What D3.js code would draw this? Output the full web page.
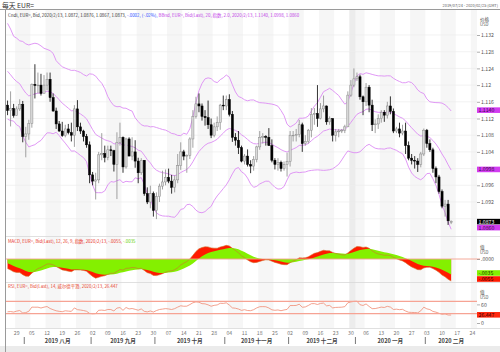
<!DOCTYPE html>
<html>
<head>
<meta charset="utf-8">
<script src="https://cdn.jsdelivr.net/npm/d3@7"></script>
<style>
body { margin: 0; background: #fff; }
text { font-family: "Noto Sans CJK SC", "Noto Sans", sans-serif; }
</style>
</head>
<body>
<svg id="chart" width="500" height="352"></svg>
<script>
// Closes before the visible range, only used to warm up the indicators
const warmupCloses = [
	1.1307, 1.1284, 1.1295, 1.1234, 1.1245, 1.1258, 1.1225, 1.1153, 1.1131, 1.1150, 1.1183, 1.1215,
	1.1196, 1.1172, 1.1200, 1.1198, 1.1191, 1.1190, 1.1215, 1.1235, 1.1225, 1.1205, 1.1173, 1.1173,
	1.1157, 1.1164, 1.1161, 1.1153, 1.1180, 1.1205, 1.1192, 1.1162, 1.1130, 1.1132, 1.1169,
	1.1240, 1.1253, 1.1222, 1.1276, 1.1333, 1.1312, 1.1327, 1.1290, 1.1275, 1.1208, 1.1220, 1.1192,
	1.1228, 1.1292, 1.1370, 1.1400, 1.1365, 1.1368, 1.1370, 1.1372,
	1.1285, 1.1286, 1.1283, 1.1285, 1.1226, 1.1213, 1.1208, 1.1252, 1.1254, 1.1271, 1.1260, 1.1210,
	1.1225, 1.1275, 1.1220, 1.1208, 1.1152
]

// Daily bars 2019/07/24 .. 2020/02/13 (weekdays)
const opens = [
	1.1152, 1.1139, 1.1144, 1.1127, 1.1143, 1.1154, 1.1077, 1.1083, 1.1108, 1.1202, 1.1199, 1.1200, 1.1180,
	1.1200, 1.1214, 1.1170, 1.1138, 1.1107, 1.1090, 1.1079, 1.1095, 1.1086, 1.1080, 1.1143, 1.1100, 1.1090,
	1.1077, 1.1057, 1.0985, 1.0970, 1.0973, 1.1033, 1.1036, 1.1027, 1.1045, 1.1043, 1.1010, 1.1063, 1.1075,
	1.1004, 1.1071, 1.1030, 1.1040, 1.1018, 1.0990, 1.1020, 1.0940, 1.0920, 1.0940, 1.0900, 1.0933, 1.0958,
	1.0968, 1.0979, 1.0970, 1.0955, 1.0973, 1.1007, 1.1040, 1.1030, 1.1032, 1.1071, 1.1125, 1.1155, 1.1150,
	1.1125, 1.1122, 1.1105, 1.1080, 1.1100, 1.1110, 1.1152, 1.1150, 1.1165, 1.1130, 1.1075, 1.1068, 1.1050,
	1.1018, 1.1030, 1.1010, 1.1006, 1.1022, 1.1052, 1.1075, 1.1077, 1.1075, 1.1055, 1.1020, 1.1010, 1.1015,
	1.1000, 1.1010, 1.1017, 1.1080, 1.1080, 1.1082, 1.1105, 1.1060, 1.1065, 1.1092, 1.1130, 1.1132, 1.1120,
	1.1143, 1.1150, 1.1112, 1.1120, 1.1080, 1.1088, 1.1090, 1.1092, 1.1100, 1.1176, 1.1200, 1.1215, 1.1220,
	1.1172, 1.1160, 1.1195, 1.1152, 1.1105, 1.1107, 1.1120, 1.1135, 1.1128, 1.1150, 1.1137, 1.1090, 1.1095,
	1.1085, 1.1090, 1.1055, 1.1025, 1.1020, 1.1018, 1.1010, 1.1035, 1.1092, 1.1060, 1.1045, 1.1000, 1.0980,
	1.0945, 1.0910, 1.0915, 1.0872
]
const highs = [
	1.1163, 1.1185, 1.1155, 1.1149, 1.1166, 1.1162, 1.1100, 1.1117, 1.1204, 1.1250, 1.1230, 1.1227, 1.1224,
	1.1230, 1.1230, 1.1180, 1.1146, 1.1114, 1.1112, 1.1105, 1.1107, 1.1110, 1.1152, 1.1164, 1.1110, 1.1093,
	1.1083, 1.1065, 1.0992, 1.0990, 1.1040, 1.1085, 1.1055, 1.1055, 1.1055, 1.1045, 1.1087, 1.1110, 1.1077,
	1.1074, 1.1075, 1.1075, 1.1068, 1.1026, 1.1025, 1.1020, 1.0955, 1.0959, 1.0945, 1.0943, 1.0964, 1.0995,
	1.0998, 1.1000, 1.0985, 1.0984, 1.1035, 1.1063, 1.1045, 1.1034, 1.1075, 1.1140, 1.1172, 1.1180, 1.1156,
	1.1140, 1.1163, 1.1120, 1.1110, 1.1125, 1.1155, 1.1175, 1.1175, 1.1178, 1.1138, 1.1085, 1.1090, 1.1055,
	1.1035, 1.1046, 1.1020, 1.1030, 1.1055, 1.1090, 1.1085, 1.1080, 1.1097, 1.1070, 1.1025, 1.1025, 1.1019,
	1.1017, 1.1038, 1.1090, 1.1090, 1.1095, 1.1117, 1.1110, 1.1080, 1.1095, 1.1145, 1.1145, 1.1200, 1.1157,
	1.1175, 1.1151, 1.1125, 1.1120, 1.1095, 1.1095, 1.1095, 1.1105, 1.1185, 1.1212, 1.1240, 1.1230, 1.1225,
	1.1175, 1.1205, 1.1200, 1.1165, 1.1118, 1.1130, 1.1140, 1.1140, 1.1160, 1.1173, 1.1144, 1.1100, 1.1110,
	1.1105, 1.1110, 1.1065, 1.1035, 1.1030, 1.1025, 1.1040, 1.1096, 1.1095, 1.1070, 1.1050, 1.1005, 1.0985,
	1.0950, 1.0925, 1.0925, 1.0876
]
const lows = [
	1.1128, 1.1101, 1.1122, 1.1126, 1.1138, 1.1063, 1.1027, 1.1069, 1.1098, 1.1168, 1.1180, 1.1175, 1.1180,
	1.1188, 1.1160, 1.1136, 1.1095, 1.1088, 1.1076, 1.1075, 1.1082, 1.1065, 1.1052, 1.1090, 1.1083, 1.1065,
	1.1050, 1.0965, 1.0960, 1.0926, 1.0965, 1.1020, 1.1015, 1.1020, 1.1030, 1.0993, 1.0927, 1.1055, 1.0990,
	1.1000, 1.1030, 1.1020, 1.1002, 1.0965, 1.0985, 1.0935, 1.0915, 1.0905, 1.0885, 1.0879, 1.0920, 1.0950,
	1.0960, 1.0965, 1.0940, 1.0943, 1.0965, 1.0997, 1.1020, 1.0990, 1.1023, 1.1050, 1.1120, 1.1135, 1.1115,
	1.1103, 1.1095, 1.1073, 1.1075, 1.1090, 1.1093, 1.1140, 1.1140, 1.1125, 1.1064, 1.1055, 1.1035, 1.1015,
	1.1010, 1.1005, 1.0989, 1.0995, 1.1015, 1.1045, 1.1060, 1.1055, 1.1055, 1.1015, 1.0998, 1.0995, 1.0993,
	1.0995, 1.0981, 1.1005, 1.1065, 1.1065, 1.1075, 1.1040, 1.1055, 1.1060, 1.1075, 1.1105, 1.1100, 1.1118,
	1.1135, 1.1105, 1.1105, 1.1065, 1.1065, 1.1075, 1.1085, 1.1085, 1.1100, 1.1172, 1.1195, 1.1210, 1.1165,
	1.1128, 1.1150, 1.1135, 1.1090, 1.1085, 1.1095, 1.1110, 1.1112, 1.1120, 1.1130, 1.1085, 1.1085, 1.1075,
	1.1080, 1.1035, 1.1020, 1.1010, 1.1000, 1.0992, 1.1003, 1.1030, 1.1050, 1.1040, 1.0990, 1.0965, 1.0940,
	1.0905, 1.0885, 1.0865, 1.0867
]
const closes = [
	1.1139, 1.1144, 1.1127, 1.1143, 1.1154, 1.1077, 1.1083, 1.1108, 1.1202, 1.1199, 1.1200, 1.1180, 1.1200,
	1.1214, 1.1170, 1.1138, 1.1107, 1.1090, 1.1079, 1.1095, 1.1086, 1.1080, 1.1143, 1.1100, 1.1090, 1.1077,
	1.1057, 1.0985, 1.0970, 1.0973, 1.1033, 1.1036, 1.1027, 1.1045, 1.1043, 1.1010, 1.1063, 1.1075, 1.1004,
	1.1071, 1.1030, 1.1040, 1.1018, 1.0990, 1.1020, 1.0940, 1.0920, 1.0940, 1.0900, 1.0933, 1.0958, 1.0968,
	1.0979, 1.0970, 1.0955, 1.0973, 1.1007, 1.1040, 1.1030, 1.1032, 1.1071, 1.1125, 1.1155, 1.1150, 1.1125,
	1.1122, 1.1105, 1.1080, 1.1100, 1.1110, 1.1152, 1.1150, 1.1165, 1.1130, 1.1075, 1.1068, 1.1050, 1.1018,
	1.1030, 1.1010, 1.1006, 1.1022, 1.1052, 1.1075, 1.1077, 1.1075, 1.1055, 1.1020, 1.1010, 1.1015, 1.1000,
	1.1010, 1.1017, 1.1080, 1.1080, 1.1082, 1.1105, 1.1060, 1.1065, 1.1092, 1.1130, 1.1132, 1.1120, 1.1143,
	1.1150, 1.1112, 1.1120, 1.1080, 1.1088, 1.1090, 1.1092, 1.1100, 1.1176, 1.1200, 1.1215, 1.1220, 1.1172,
	1.1160, 1.1195, 1.1152, 1.1105, 1.1107, 1.1120, 1.1135, 1.1128, 1.1150, 1.1137, 1.1090, 1.1095, 1.1085,
	1.1090, 1.1055, 1.1025, 1.1020, 1.1018, 1.1010, 1.1035, 1.1092, 1.1060, 1.1045, 1.1000, 1.0980, 1.0945,
	1.0910, 1.0915, 1.0875, 1.0873
]

const priceTicks = [1.088, 1.092, 1.096, 1.1, 1.104, 1.108, 1.112, 1.116, 1.12, 1.124, 1.128, 1.132]
const macdTicks = [0, -0.0025, -0.005]
const rsiTicks = [60, 0]
const rsiLevels = [70, 30]
const monthNames = ["一月", "二月", "三月", "四月", "五月", "六月", "七月", "八月", "九月", "十月", "十一月", "十二月"]

// Right-axis value boxes (as printed on the chart)
const priceBoxes = [
	{ value: 1.1140, text: "1.1140", fill: "#d23cf0", colour: "#3a0a48" },
	{ value: 1.0998, text: "1.0998", fill: "#d23cf0", colour: "#3a0a48" },
	{ value: 1.0873, text: "1.0873", fill: "#000", colour: "#fff" },
	{ value: 1.0860, text: "1.0860", fill: "#d23cf0", colour: "#3a0a48" },
]
const macdBoxes = [
	{ value: -0.0035, text: "-.0035", fill: "#84f000", colour: "#1d3a00" },
	{ value: -0.0055, text: "-.0055", fill: "#ff1a00", colour: "#3a0000" },
]
const rsiBoxes = [
	{ value: 26.447, text: "26.447", fill: "#ff2a10", colour: "#3a0000" },
]

const legendMain = [
	{ text: "Cndl, EUR=, Bid, 2020/2/13, 1.0872, 1.0876, 1.0867, 1.0873, ", colour: "#333" },
	{ text: "-.0002, (-.02%), ", colour: "#2a4cff" },
	{ text: "BBnd, EUR=, Bid(Last), 20, 指数, 2.0, 2020/2/13, 1.1140, 1.0998, 1.0860", colour: "#c040e6" },
]
const legendMacd = [
	{ text: "MACD, EUR=, Bid(Last), 12, 26, 9, 指数, 2020/2/13, -.0055, ", colour: "#e8321e" },
	{ text: "-.0035", colour: "#5ad000" },
]
const legendRsi = [
	{ text: "RSI, EUR=, Bid(Last), 14, 威尔德平滑, 2020/2/13, 26.447", colour: "#e8462e" },
]

// ---- indicators ----
function ema(values, n) {
	const k = 2 / (n + 1)
	let prev = values[0]
	return values.map((v, i) => (prev = i === 0 ? v : v * k + prev * (1 - k)))
}

const allCloses = warmupCloses.concat(closes)
const W = warmupCloses.length

const bbMid = ema(allCloses, 20)
const bbDev = allCloses.map((v, i) => {
	const win = allCloses.slice(Math.max(0, i - 19), i + 1)
	const m = d3.mean(win)
	return Math.sqrt(d3.mean(win, d => (d - m) * (d - m)))
})
const bbUpper = bbMid.map((m, i) => m + 2 * bbDev[i])
const bbLower = bbMid.map((m, i) => m - 2 * bbDev[i])

const ema12 = ema(allCloses, 12)
const ema26 = ema(allCloses, 26)
const macd = ema12.map((v, i) => v - ema26[i])
const signal = ema(macd, 9)

const rsi = (() => {
	let out = [50], ag = 0, al = 0
	for (let i = 1; i < allCloses.length; i++) {
		const ch = allCloses[i] - allCloses[i - 1]
		const g = Math.max(ch, 0), l = Math.max(-ch, 0)
		if (i <= 14) { ag += g / 14; al += l / 14 }
		else { ag = (ag * 13 + g) / 14; al = (al * 13 + l) / 14 }
		out.push(al === 0 ? 100 : 100 - 100 / (1 + ag / al))
	}
	return out
})()

const vis = arr => arr.slice(W)
const upperV = vis(bbUpper), midV = vis(bbMid), lowerV = vis(bbLower)
const macdV = vis(macd), signalV = vis(signal), rsiV = vis(rsi)

// ---- layout ----
const svg = d3.select("#chart")
const L = 6, R = 477
const mainP = { top: 10, bottom: 236 }
const macdP = { top: 236, bottom: 282 }
const rsiP = { top: 282, bottom: 328 }

const days = d3.timeDay.range(new Date(2019, 6, 24), new Date(2020, 1, 26))
	.filter(d => d.getDay() !== 0 && d.getDay() !== 6)

const x = d3.scaleBand()
	.domain(d3.range(days.length))
	.range([L, R])
	.paddingInner(0.3)
	.paddingOuter(0.16)
const step = x.step()
const cx = i => x(i) + x.bandwidth() / 2
const edge = i => (i >= days.length ? R : x(i) - step * 0.15)

const y = d3.scaleLinear().domain([1.132, 1.088]).range([35, 218.7])
const ym = d3.scaleLinear().domain([0, -0.005]).range([259, 279])
const yr = d3.scaleLinear().domain([0, 100]).range([323, 292])

// clip paths
const defs = svg.append("defs")
for (const [id, p] of [["clipMain", mainP], ["clipMacd", macdP], ["clipRsi", rsiP]]) {
	defs.append("clipPath").attr("id", id)
		.append("rect").attr("x", L).attr("y", p.top).attr("width", R - L).attr("height", p.bottom - p.top)
}

// alternating week bands in every panel
const mondays = d3.range(days.length).filter(i => days[i].getDay() === 1)
const bandG = svg.append("g")
mondays.forEach((m, k) => {
	if (k % 2 !== 0) return
	bandG.append("rect")
		.attr("x", edge(m))
		.attr("y", mainP.top)
		.attr("width", edge(m + 5) - edge(m))
		.attr("height", rsiP.bottom - mainP.top)
		.attr("fill", "#f6f6f6")
})
// last days of 2019 inside the year-crossing week are shaded a bit darker
const yearEnd = d3.range(days.length).filter(i => days[i].getFullYear() === 2019 && days[i] >= new Date(2019, 11, 30))
bandG.append("rect")
	.attr("x", edge(yearEnd[0]))
	.attr("y", mainP.top)
	.attr("width", edge(yearEnd[yearEnd.length - 1] + 1) - edge(yearEnd[0]))
	.attr("height", rsiP.bottom - mainP.top)
	.attr("fill", "#ececec")

// horizontal grid in main panel
svg.append("g").selectAll("line")
	.data(priceTicks)
	.join("line")
	.attr("x1", L).attr("x2", R)
	.attr("y1", d => y(d)).attr("y2", d => y(d))
	.attr("stroke", "#ececec").attr("stroke-width", 0.7)

// panel separators and frame
svg.append("line").attr("x1", 0).attr("x2", 500).attr("y1", 9.5).attr("y2", 9.5).attr("stroke", "#9a9a9a")
for (const yy of [mainP.bottom, macdP.bottom, rsiP.bottom]) {
	svg.append("line").attr("x1", L).attr("x2", 500).attr("y1", yy + 0.5).attr("y2", yy + 0.5)
		.attr("stroke", "#d8d8d8").attr("stroke-width", 0.8)
}
svg.append("rect").attr("x", 0).attr("y", 346).attr("width", 500).attr("height", 6).attr("fill", "#ebebeb")
svg.append("line").attr("x1", 5.5).attr("x2", 5.5).attr("y1", 9.5).attr("y2", 352).attr("stroke", "#9a9a9a")

// ---- main panel: bollinger + candles ----
const main = svg.append("g").attr("clip-path", "url(#clipMain)")
const bbLine = d3.line().x((d, i) => cx(i)).y(d => y(d))
for (const series of [upperV, midV, lowerV]) {
	main.append("path")
		.attr("d", bbLine(series))
		.attr("fill", "none")
		.attr("stroke", "#dc8cf4")
		.attr("stroke-width", 0.9)
}

const bars = closes.map((c, i) => ({ i, o: opens[i], h: highs[i], l: lows[i], c }))
const candle = main.append("g").selectAll("g")
	.data(bars)
	.join("g")
candle.append("line")
	.attr("x1", d => cx(d.i)).attr("x2", d => cx(d.i))
	.attr("y1", d => y(d.h)).attr("y2", d => y(d.l))
	.attr("stroke", d => (d.c >= d.o ? "#8a8a8a" : "#000"))
	.attr("stroke-width", 0.8)
candle.append("rect")
	.attr("x", d => x(d.i))
	.attr("width", x.bandwidth())
	.attr("y", d => y(Math.max(d.o, d.c)))
	.attr("height", d => Math.max(0.7, Math.abs(y(d.o) - y(d.c))))
	.attr("fill", d => (d.c >= d.o ? "#dadada" : "#000"))
	.attr("stroke", d => (d.c >= d.o ? "#8a8a8a" : "#000"))
	.attr("stroke-width", 0.5)

// ---- MACD panel ----
const macdG = svg.append("g").attr("clip-path", "url(#clipMacd)")
macdG.append("path")
	.attr("d", d3.area().x((d, i) => cx(i)).y0(ym(0)).y1(d => ym(d))(macdV))
	.attr("fill", "#ff1a00")
macdG.append("path")
	.attr("d", d3.area().x((d, i) => cx(i)).y0(ym(0)).y1(d => ym(d))(signalV))
	.attr("fill", "#84f000")
svg.append("line").attr("x1", L).attr("x2", R + 3).attr("y1", ym(0)).attr("y2", ym(0))
	.attr("stroke", "#f4a08e").attr("stroke-width", 0.9)
macdG.append("path")
	.attr("d", d3.line().x((d, i) => cx(i)).y(d => ym(d))(macdV))
	.attr("fill", "none").attr("stroke", "#d0702c").attr("stroke-width", 0.6)

// ---- RSI panel ----
const rsiG = svg.append("g").attr("clip-path", "url(#clipRsi)")
svg.append("g").selectAll("line")
	.data(rsiLevels)
	.join("line")
	.attr("x1", L).attr("x2", R)
	.attr("y1", d => yr(d)).attr("y2", d => yr(d))
	.attr("stroke", "#f6a394").attr("stroke-width", 1.2)
rsiG.append("path")
	.attr("d", d3.line().x((d, i) => cx(i)).y(d => yr(d))(rsiV))
	.attr("fill", "none").attr("stroke", "#f08a72").attr("stroke-width", 0.8)

// ---- right axes ----
// value boxes first, so tick labels that they would hide are skipped
function placeBoxes(list, scale, bottom) {
	let prev = -Infinity
	return list.map(b => {
		let yy = Math.max(scale(b.value), prev + 6)
		yy = Math.min(yy, bottom - 3)
		prev = yy
		return { ...b, yy }
	})
}
function rightAxis(scale, ticks, fmt, placed) {
	const shown = ticks.filter(t => placed.every(b => Math.abs(scale(t) - b.yy) > 5))
	const g = svg.append("g").attr("transform", `translate(${R},0)`)
		.call(d3.axisRight(scale).tickValues(shown).tickSize(3).tickPadding(1).tickFormat(fmt))
	g.select(".domain").remove()
	g.selectAll("line").attr("stroke", "#777").attr("stroke-width", 0.6)
	g.selectAll("text").attr("font-size", 5.2).attr("fill", "#555")
		.attr("font-family", "'Noto Sans', sans-serif")
	placed.forEach(b => {
		svg.append("rect").attr("x", R).attr("y", b.yy - 2.8).attr("width", 500 - R).attr("height", 5.6)
			.attr("fill", b.fill)
		svg.append("text").attr("x", R + 1.5).attr("y", b.yy + 1.9)
			.attr("font-size", 5.2).attr("fill", b.colour)
			.attr("font-family", "'Noto Sans', sans-serif")
			.text(b.text)
	})
}
rightAxis(y, priceTicks, d3.format(".3~f"), placeBoxes(priceBoxes, y, mainP.bottom))
rightAxis(ym, macdTicks, v => d3.format(".4f")(v).replace("0.", "."), placeBoxes(macdBoxes, ym, macdP.bottom))
rightAxis(yr, rsiTicks, d3.format("d"), placeBoxes(rsiBoxes, yr, rsiP.bottom))

function headers(top, first) {
	svg.append("text").attr("x", 480).attr("y", top).attr("font-size", 4.6).attr("fill", "#444").text(first)
	svg.append("text").attr("x", 480).attr("y", top + 5.2).attr("font-size", 4.2).attr("fill", "#555").text("USD")
}
headers(21, "价格")
headers(248.5, "值")
headers(293.5, "值")

// ---- legends and titles ----
function legend(parts, yy) {
	const t = svg.append("text").attr("x", 8).attr("y", yy).attr("font-size", 4.4)
	parts.forEach(p => t.append("tspan").attr("fill", p.colour).text(p.text))
}
legend(legendMain, 16.5)
legend(legendMacd, 243.3)
legend(legendRsi, 287.6)

svg.append("text").attr("x", 2).attr("y", 7.8).attr("font-size", 6.8).attr("fill", "#333").text("每天 EUR=")
svg.append("text").attr("x", 498).attr("y", 7.2).attr("text-anchor", "end")
	.attr("font-size", 3.9).attr("fill", "#555").text("2019/07/24 - 2020/02/25 (GMT)")

// ---- date axis ----
const xAxis = svg.append("g").attr("transform", `translate(0,${rsiP.bottom})`)
	.call(d3.axisBottom(x).tickValues(mondays).tickSize(0).tickPadding(3)
		.tickFormat(i => d3.timeFormat("%d")(days[i])))
xAxis.select(".domain").remove()
xAxis.selectAll("text").attr("font-size", 5.2).attr("fill", "#777")
	.attr("font-family", "'Noto Sans', sans-serif")

const monthStarts = d3.range(1, days.length).filter(i => days[i].getMonth() !== days[i - 1].getMonth())
const monthG = svg.append("g")
monthStarts.forEach((s, k) => {
	const x0 = edge(s)
	const x1 = k + 1 < monthStarts.length ? edge(monthStarts[k + 1]) : R
	monthG.append("line").attr("x1", x0).attr("x2", x0).attr("y1", 337).attr("y2", 344)
		.attr("stroke", "#555").attr("stroke-width", 0.8)
	const d = days[s]
	monthG.append("text")
		.attr("x", (x0 + x1) / 2).attr("y", 343.2)
		.attr("text-anchor", "middle")
		.attr("font-size", 5.6).attr("font-weight", "bold").attr("fill", "#444")
		.text(`${d.getFullYear()} ${monthNames[d.getMonth()]}`)
})
</script>
</body>
</html>
